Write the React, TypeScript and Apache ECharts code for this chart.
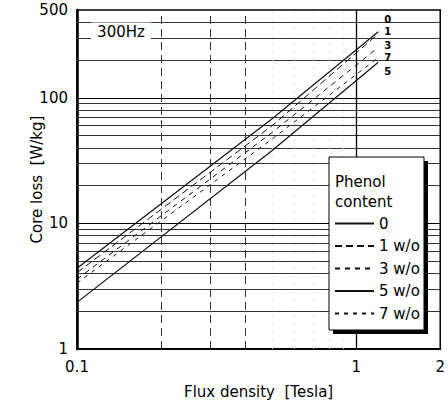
import React, { useEffect, useRef } from "react";
import * as echarts from "echarts";

// Flux density sample points [Tesla]
const fluxDensity = [0.1, 0.5, 1.2];

// Series names (phenol content) and the short tags written at the line ends
const seriesNames = ["0", "1 w/o", "3 w/o", "5 w/o", "7 w/o"];
const endTags = ["0", "1", "3", "5", "7"];

// Core loss [W/kg]
const loss0 = [4.4, 68, 336];
const loss1 = [4.05, 60, 323];
const loss3 = [3.6, 53, 252];
const loss5 = [2.35, 38, 192];
const loss7 = [3.35, 47, 209];

// Grid line values
const yGridMinor = [2, 3, 4, 5, 6, 7, 8, 9, 20, 30, 40, 50, 60, 70, 80, 90, 200, 300, 400];
const yGridMajor = [10, 100];
const xGridDashed = [0.2, 0.3, 0.4];
const xGridDotted = [0.5, 0.6, 0.7, 0.8, 0.9];
const xGridMajor = [1];

const FONT = "DejaVu Sans";

export default function App() {
  const ref = useRef<HTMLDivElement>(null);

  useEffect(() => {
    document.body.style.margin = "0";
    const chart = echarts.init(ref.current!, null, { renderer: "svg" });

    const lineDefs = [
      { name: seriesNames[0], tag: endTags[0], values: loss0, type: "solid", width: 1.2, offset: [0, -12] },
      { name: seriesNames[1], tag: endTags[1], values: loss1, type: [7, 4], width: 1, offset: [0, -2] },
      { name: seriesNames[2], tag: endTags[2], values: loss3, type: [5, 5], width: 1, offset: [0, -2] },
      { name: seriesNames[3], tag: endTags[3], values: loss5, type: "solid", width: 1.2, offset: [0, 9] },
      { name: seriesNames[4], tag: endTags[4], values: loss7, type: [4, 5], width: 1, offset: [0, 0] },
    ];

    const series: any[] = lineDefs.map((d) => ({
      name: d.name,
      type: "line",
      symbol: "none",
      silent: true,
      z: 3,
      color: "#111",
      data: fluxDensity.map((x, i) => [x, d.values[i]]),
      itemStyle: { color: "#111" },
      lineStyle: { color: "#111", width: d.width, type: d.type },
      endLabel: {
        show: true,
        formatter: d.tag,
        offset: d.offset,
        distance: 6,
        color: "#000",
        fontFamily: FONT,
        fontWeight: "bold",
        fontSize: 10,
        lineHeight: 11,
      },
    }));

    series.push({
      name: "gridlines",
      type: "line",
      symbol: "none",
      silent: true,
      z: 1,
      data: [],
      markLine: {
        silent: true,
        z: 1,
        symbol: ["none", "none"],
        label: { show: false },
        data: [
          ...yGridMinor.map((v) => ({ yAxis: v, lineStyle: { color: "#333", width: 1, type: "solid" } })),
          ...yGridMajor.map((v) => ({ yAxis: v, lineStyle: { color: "#000", width: 1.2, type: "solid" } })),
          ...xGridDashed.map((v) => ({ xAxis: v, lineStyle: { color: "#333", width: 1, type: [8, 5] } })),
          ...xGridDotted.map((v) => ({ xAxis: v, lineStyle: { color: "#c4c4c4", width: 1, type: [1, 7] } })),
          ...xGridMajor.map((v) => ({ xAxis: v, lineStyle: { color: "#000", width: 1.3, type: "solid" } })),
        ],
      },
    });

    const textBase = { fontFamily: FONT, fontSize: 15, color: "#000" };

    chart.setOption({
      animation: false,
      backgroundColor: "#fff",
      grid: {
        left: 77,
        right: 6,
        top: 10,
        bottom: 58,
        show: true,
        borderColor: "#000",
        borderWidth: 1.5,
      },
      xAxis: {
        type: "log",
        logBase: 10,
        min: 0.1,
        max: 2,
        axisLine: { show: true, lineStyle: { color: "#000", width: 2 } },
        axisTick: { show: false },
        splitLine: { show: false },
        axisLabel: { ...textBase, margin: 10 },
        name: "Flux density  [Tesla]",
        nameLocation: "middle",
        nameGap: 35,
        nameMoveOverlap: false,
        nameTextStyle: { ...textBase },
      },
      yAxis: {
        type: "log",
        logBase: 10,
        min: 1,
        max: 500,
        axisLine: { show: true, lineStyle: { color: "#000", width: 2.5 } },
        axisTick: { show: false },
        splitLine: { show: false },
        axisLabel: { ...textBase, margin: 9 },
        name: "Core loss  [W/kg]",
        nameLocation: "middle",
        nameGap: 33,
        nameMoveOverlap: false,
        nameTextStyle: { ...textBase },
      },
      legend: {
        data: seriesNames,
        orient: "vertical",
        left: 334,
        top: 216,
        itemWidth: 39,
        itemHeight: 14,
        itemGap: 7.5,
        padding: 0,
        z: 110,
        itemStyle: { opacity: 0 },
        textStyle: { ...textBase },
      },
      graphic: [
        { type: "rect", z: 100, shape: { x: 333, y: 161, width: 95, height: 173 }, style: { fill: "#000" } },
        {
          type: "rect",
          z: 101,
          shape: { x: 329, y: 157, width: 95, height: 173 },
          style: { fill: "#fff", stroke: "#000", lineWidth: 1 },
        },
        {
          type: "text",
          z: 102,
          x: 335,
          y: 182,
          style: { text: "Phenol", fontFamily: FONT, fontSize: 15, fill: "#000", verticalAlign: "middle" },
        },
        {
          type: "text",
          z: 102,
          x: 335,
          y: 202,
          style: { text: "content", fontFamily: FONT, fontSize: 15, fill: "#000", verticalAlign: "middle" },
        },
        {
          type: "text",
          z: 102,
          x: 121,
          y: 32,
          style: {
            text: "300Hz",
            fontFamily: FONT,
            fontSize: 15,
            fill: "#000",
            align: "center",
            verticalAlign: "middle",
            backgroundColor: "#fff",
            padding: [2, 6],
          },
        },
      ],
      series,
    });

    return () => chart.dispose();
  }, []);

  return (
    <div
      ref={ref}
      style={{ position: "absolute", left: 0, top: 0, width: 448, height: 407, background: "#fff" }}
    />
  );
}
